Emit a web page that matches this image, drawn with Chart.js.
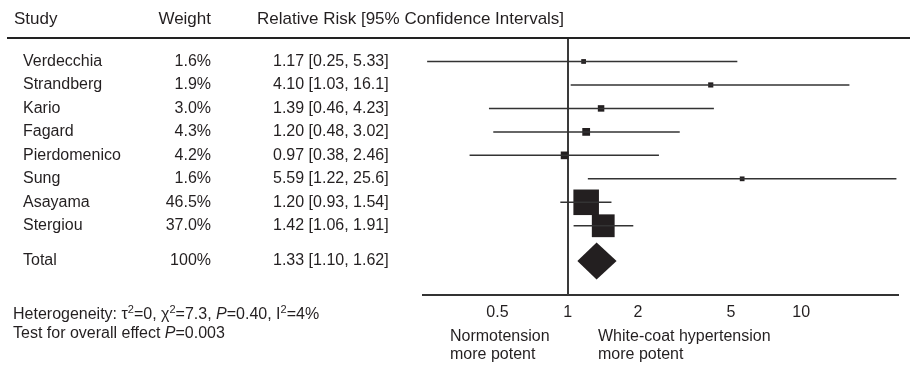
<!DOCTYPE html>
<html>
<head>
<meta charset="utf-8">
<script src="https://cdn.jsdelivr.net/npm/chart.js@4.4.1/dist/chart.umd.min.js"></script>
<style>
  html, body { margin: 0; padding: 0; background: #fff; }
</style>
</head>
<body>
<canvas id="forest" width="910" height="367"></canvas>
<script>
// study data
var studies = ['Verdecchia', 'Strandberg', 'Kario', 'Fagard', 'Pierdomenico', 'Sung', 'Asayama', 'Stergiou'];
var weights = [1.6, 1.9, 3.0, 4.3, 4.2, 1.6, 46.5, 37.0];
var riskRatio = [1.17, 4.10, 1.39, 1.20, 0.97, 5.59, 1.20, 1.42];
var ciLower = [0.25, 1.03, 0.46, 0.48, 0.38, 1.22, 0.93, 1.06];
var ciUpper = [5.33, 16.1, 4.23, 3.02, 2.46, 25.6, 1.54, 1.91];

// pooled estimate
var totalLabel = ['Total'];
var totalWeight = ['100%'];
var totalRisk = [1.33];
var totalLower = [1.10];
var totalUpper = [1.62];

var tickValues = [0.5, 1, 2, 5, 10];

var FONT = '"Liberation Sans", Arial, Helvetica, sans-serif';
var INK = '#231f20';
var totalRow = studies.length + 0.5;

function fmt(v) {
  return v >= 10 ? v.toFixed(1) : v.toFixed(2);
}

var datasets = [];

// confidence interval whiskers
studies.forEach(function (name, i) {
  datasets.push({
    type: 'line',
    data: [{ x: ciLower[i], y: i }, { x: ciUpper[i], y: i }],
    borderColor: '#333',
    borderWidth: 1.5,
    pointRadius: 0,
    fill: false
  });
});

// study squares, area proportional to weight
datasets.push({
  type: 'scatter',
  data: studies.map(function (n, i) { return { x: riskRatio[i], y: i }; }),
  pointStyle: 'rect',
  pointRadius: weights.map(function (w) { return 2.65 * Math.sqrt(w); }),
  backgroundColor: INK,
  borderColor: INK,
  borderWidth: 0
});

// pooled diamond
var dh = 0.79;
datasets.push({
  type: 'line',
  data: [
    { x: totalLower[0], y: totalRow },
    { x: totalRisk[0], y: totalRow - dh },
    { x: totalUpper[0], y: totalRow },
    { x: totalRisk[0], y: totalRow + dh },
    { x: totalLower[0], y: totalRow }
  ],
  borderWidth: 0,
  borderColor: INK,
  backgroundColor: INK,
  pointRadius: 0,
  fill: 'shape'
});

function richText(ctx, parts, x, y, size) {
  parts.forEach(function (p) {
    var s = p[1] === 's' ? Math.round(size * 0.7) : size;
    ctx.font = (p[1] === 'i' ? 'italic ' : '') + s + 'px ' + FONT;
    ctx.fillText(p[0], x, p[1] === 's' ? y - size * 0.32 : y);
    x += ctx.measureText(p[0]).width;
  });
}

var tablePlugin = {
  id: 'forestTable',
  beforeDatasetsDraw: function (chart) {
    var ctx = chart.ctx, xs = chart.scales.x, a = chart.chartArea;
    var x1 = Math.round(xs.getPixelForValue(1));
    ctx.save();
    ctx.strokeStyle = '#3a3a3a';
    ctx.lineWidth = 2;
    ctx.beginPath();
    ctx.moveTo(x1, a.top);
    ctx.lineTo(x1, a.bottom);
    ctx.stroke();
    ctx.restore();
  },
  afterDraw: function (chart) {
    var ctx = chart.ctx, ys = chart.scales.y, a = chart.chartArea;
    ctx.save();
    ctx.fillStyle = INK;
    ctx.textBaseline = 'middle';

    // header
    ctx.font = '17px ' + FONT;
    ctx.textAlign = 'left';
    ctx.fillText('Study', 14, 19);
    ctx.fillText('Relative Risk [95% Confidence Intervals]', 257, 19);
    ctx.textAlign = 'right';
    ctx.fillText('Weight', 211, 19);

    ctx.strokeStyle = '#222';
    ctx.lineWidth = 2;
    ctx.beginPath();
    ctx.moveTo(7, a.top);
    ctx.lineTo(910, a.top);
    ctx.stroke();

    // rows
    ctx.font = '16px ' + FONT;
    studies.forEach(function (name, i) {
      var y = ys.getPixelForValue(i);
      ctx.textAlign = 'left';
      ctx.fillText(name, 23, y);
      ctx.fillText(fmt(riskRatio[i]) + ' [' + fmt(ciLower[i]) + ', ' + fmt(ciUpper[i]) + ']', 273, y);
      ctx.textAlign = 'right';
      ctx.fillText(weights[i].toFixed(1) + '%', 211, y);
    });
    var yt = ys.getPixelForValue(totalRow);
    ctx.textAlign = 'left';
    ctx.fillText(totalLabel[0], 23, yt);
    ctx.fillText(fmt(totalRisk[0]) + ' [' + fmt(totalLower[0]) + ', ' + fmt(totalUpper[0]) + ']', 273, yt);
    ctx.textAlign = 'right';
    ctx.fillText(totalWeight[0], 211, yt);

    // footer
    ctx.textAlign = 'left';
    richText(ctx, [['Heterogeneity: \u03c4', 'n'], ['2', 's'], ['=0, \u03c7', 'n'], ['2', 's'], ['=7.3, ', 'n'],
      ['P', 'i'], ['=0.40, I', 'n'], ['2', 's'], ['=4%', 'n']], 13, a.bottom + 20, 16);
    richText(ctx, [['Test for overall effect ', 'n'], ['P', 'i'], ['=0.003', 'n']], 13, a.bottom + 39, 16);

    ctx.font = '16px ' + FONT;
    ctx.fillText('Normotension', 450, a.bottom + 42);
    ctx.fillText('more potent', 450, a.bottom + 60);
    ctx.fillText('White-coat hypertension', 598, a.bottom + 42);
    ctx.fillText('more potent', 598, a.bottom + 60);
    ctx.restore();
  }
};

new Chart(document.getElementById('forest'), {
  type: 'scatter',
  data: { datasets: datasets },
  options: {
    responsive: false,
    animation: false,
    layout: { autoPadding: false, padding: { left: 423, right: 12, top: 38, bottom: 0 } },
    plugins: { legend: { display: false }, tooltip: { enabled: false } },
    scales: {
      x: {
        type: 'logarithmic',
        min: 0.24,
        max: 26,
        grid: { display: false },
        border: { display: true, color: '#333', width: 2 },
        afterBuildTicks: function (s) {
          s.ticks = tickValues.map(function (v) { return { value: v }; });
        },
        afterFit: function (s) { s.height = 72; },
        ticks: {
          color: INK,
          padding: 0,
          font: { family: FONT, size: 16 },
          maxRotation: 0,
          autoSkip: false,
          callback: function (v) { return String(v); }
        }
      },
      y: {
        type: 'linear',
        reverse: true,
        min: -1,
        max: 9.95,
        display: false
      }
    }
  },
  plugins: [tablePlugin]
});
</script>
</body>
</html>
